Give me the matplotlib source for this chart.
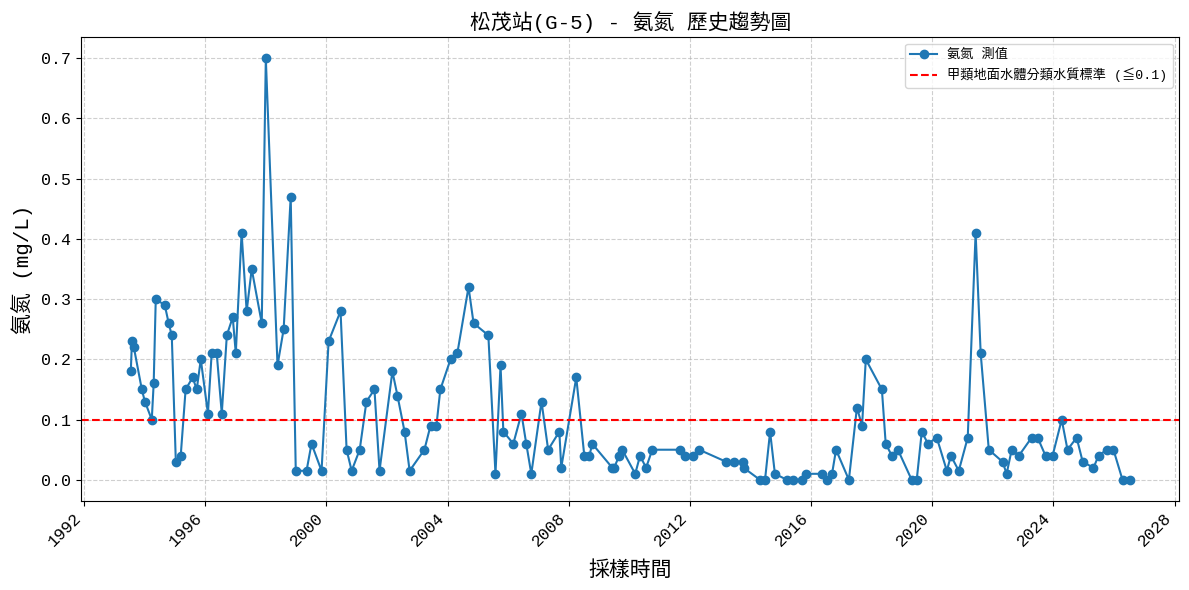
import pandas as pd
import matplotlib
matplotlib.use('Agg')
import matplotlib.pyplot as plt
import matplotlib.dates as mdates

plt.rcParams['font.family'] = ['Liberation Mono', 'Noto Sans CJK TC', 'DejaVu Sans']
plt.rcParams['axes.unicode_minus'] = False

station = "松茂站(G-5)"
item = "氨氮"
standard = 0.1

dates = [
    "1993-07-18", "1993-08-01", "1993-08-24", "1993-11-28", "1994-01-04", "1994-03-28",
    "1994-04-20", "1994-05-15", "1994-09-01", "1994-10-18", "1994-11-24", "1995-01-12",
    "1995-03-12", "1995-05-10", "1995-08-03", "1995-09-21", "1995-11-09", "1996-02-03",
    "1996-03-19", "1996-05-19", "1996-07-19", "1996-09-18", "1996-11-28", "1997-01-04",
    "1997-03-15", "1997-05-15", "1997-07-15", "1997-11-13", "1998-01-01", "1998-05-22",
    "1998-08-04", "1998-10-28", "1998-12-28", "1999-05-07", "1999-07-06", "1999-11-04",
    "2000-01-28", "2000-06-20", "2000-09-01", "2000-11-01", "2001-02-06", "2001-04-28",
    "2001-08-03", "2001-10-03", "2002-03-07", "2002-05-07", "2002-08-01", "2002-10-01",
    "2003-03-28", "2003-06-10", "2003-08-20", "2003-10-06", "2004-02-06", "2004-04-28",
    "2004-09-10", "2004-11-10", "2005-05-07", "2005-08-01", "2005-10-01", "2005-11-04",
    "2006-03-04", "2006-06-10", "2006-08-07", "2006-10-07", "2007-02-07", "2007-04-28",
    "2007-09-10", "2007-10-03", "2008-04-01", "2008-07-07", "2008-09-07", "2008-10-10",
    "2009-06-10", "2009-07-01", "2009-09-01", "2009-10-07", "2010-03-13", "2010-05-10",
    "2010-07-22", "2010-10-04", "2011-09-07", "2011-11-04", "2012-02-10", "2012-04-22",
    "2013-03-13", "2013-06-16", "2013-10-04", "2013-10-10", "2014-04-25", "2014-06-25",
    "2014-08-25", "2014-10-22", "2015-03-16", "2015-05-28", "2015-09-13", "2015-11-01",
    "2016-05-10", "2016-07-10", "2016-09-10", "2016-10-28", "2017-04-01", "2017-07-07",
    "2017-09-07", "2017-10-22", "2018-05-04", "2018-06-19", "2018-09-01", "2018-11-13",
    "2019-04-28", "2019-06-28", "2019-08-28", "2019-11-10", "2020-02-25", "2020-06-25",
    "2020-08-13", "2020-11-16", "2021-03-04", "2021-06-07", "2021-08-07", "2021-11-13",
    "2022-04-28", "2022-06-16", "2022-08-16", "2022-11-10", "2023-04-13", "2023-06-25",
    "2023-09-28", "2023-12-22", "2024-04-10", "2024-06-19", "2024-10-07", "2024-12-19",
    "2025-04-28", "2025-06-28", "2025-10-04", "2025-12-25", "2026-04-13", "2026-07-07",
]

values = [
    0.18, 0.23, 0.22, 0.15, 0.13, 0.10,
    0.16, 0.30, 0.29, 0.26, 0.24, 0.03,
    0.04, 0.15, 0.17, 0.15, 0.20, 0.11,
    0.21, 0.21, 0.11, 0.24, 0.27, 0.21,
    0.41, 0.28, 0.35, 0.26, 0.70, 0.19,
    0.25, 0.47, 0.015, 0.015, 0.06, 0.015,
    0.23, 0.28, 0.05, 0.015, 0.05, 0.13,
    0.15, 0.015, 0.18, 0.14, 0.08, 0.015,
    0.05, 0.09, 0.09, 0.15, 0.20, 0.21,
    0.32, 0.26, 0.24, 0.01, 0.19, 0.08,
    0.06, 0.11, 0.06, 0.01, 0.13, 0.05,
    0.08, 0.02, 0.17, 0.04, 0.04, 0.06,
    0.02, 0.02, 0.04, 0.05, 0.01, 0.04,
    0.02, 0.05, 0.05, 0.04, 0.04, 0.05,
    0.03, 0.03, 0.03, 0.02, 0.0, 0.0,
    0.08, 0.01, 0.0, 0.0, 0.0, 0.01,
    0.01, 0.0, 0.01, 0.05, 0.0, 0.12,
    0.09, 0.20, 0.15, 0.06, 0.04, 0.05,
    0.0, 0.0, 0.08, 0.06, 0.07, 0.015,
    0.04, 0.015, 0.07, 0.41, 0.21, 0.05,
    0.03, 0.01, 0.05, 0.04, 0.07, 0.07,
    0.04, 0.04, 0.10, 0.05, 0.07, 0.03,
    0.02, 0.04, 0.05, 0.05, 0.0, 0.0,
]

df = pd.DataFrame({"date": pd.to_datetime(dates), "value": values})

fig, ax = plt.subplots(figsize=(11.89, 5.9), dpi=100)
ax.plot(df.date, df.value, marker='o', markersize=6, linewidth=1.5, color='#1f77b4',
        label="{} 測值".format(item))
ax.axhline(standard, color='red', linestyle='--', linewidth=1.5,
           label="甲類地面水體分類水質標準 (≦{})".format(standard))

ax.set_title("{} - {} 歷史趨勢圖".format(station, item), fontsize=15)
ax.set_xlabel("採樣時間", fontsize=15, labelpad=8)
ax.set_ylabel("{} (mg/L)".format(item), fontsize=15, labelpad=6)
ax.grid(True, linestyle='--', alpha=0.6)
ax.xaxis.set_major_locator(mdates.YearLocator(4))
ax.xaxis.set_major_formatter(mdates.DateFormatter('%Y'))
ax.tick_params(labelsize=12)
plt.setp(ax.get_xticklabels(), rotation=45, ha='right')
ax.legend(loc='upper right', fontsize=9.5)

plt.subplots_adjust(left=0.068, right=0.992, top=0.937, bottom=0.151)
plt.savefig('out.png', dpi=100)
